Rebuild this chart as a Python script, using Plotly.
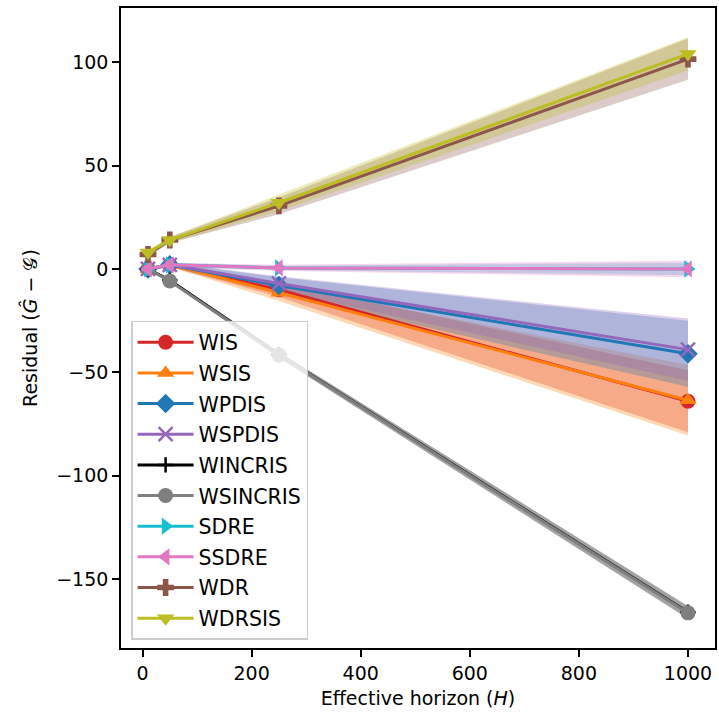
import plotly.graph_objects as go

horizons = [10, 50, 250, 1000]

names = ["WIS", "WSIS", "WPDIS", "WSPDIS", "WINCRIS", "WSINCRIS", "SDRE", "SSDRE", "WDR", "WDRSIS"]

wis = [0.0, 2.0, -10.0, -64.0]
wsis = [0.0, 2.0, -11.5, -63.5]
wpdis = [0.0, 2.0, -8.0, -41.0]
wspdis = [0.0, 2.0, -7.0, -39.0]
wincris = [0.0, -5.5, -41.5, -166.0]
wsincris = [0.0, -5.8, -41.6, -166.3]
sdre = [0.0, 2.0, 0.5, 0.0]
ssdre = [0.0, 2.0, 0.5, 0.0]
wdr = [7.0, 14.0, 30.5, 101.5]
wdrsis = [8.0, 14.0, 32.0, 104.0]

wis_ci = [0.5, 1.0, 3.5, 15.0]
wsis_ci = [0.5, 1.0, 4.0, 17.0]
wpdis_ci = [0.5, 1.0, 4.0, 16.0]
wspdis_ci = [0.5, 1.0, 3.5, 15.0]
wincris_ci = [0.5, 0.8, 1.5, 3.0]
wsincris_ci = [0.5, 0.8, 1.5, 3.0]
sdre_ci = [0.5, 1.0, 1.0, 3.0]
ssdre_ci = [0.5, 1.0, 1.5, 4.0]
wdr_ci = [1.0, 1.5, 4.0, 10.0]
wdrsis_ci = [1.0, 1.5, 4.0, 8.0]

values = [wis, wsis, wpdis, wspdis, wincris, wsincris, sdre, ssdre, wdr, wdrsis]
cis = [wis_ci, wsis_ci, wpdis_ci, wspdis_ci, wincris_ci, wsincris_ci, sdre_ci, ssdre_ci, wdr_ci, wdrsis_ci]

colors = ["#d62728", "#ff7f0e", "#1f77b4", "#9467bd", "#000000", "#7f7f7f",
          "#17becf", "#e377c2", "#8c564b", "#bcbd22"]
symbols = ["circle", "triangle-up", "diamond", "x-thin-open", "cross-thin-open", "circle",
           "triangle-right", "triangle-left", "cross", "triangle-down"]
sizes = [15, 15, 15, 14, 11, 15, 15, 15, 14, 15]


def rgba(hexc, a):
    h = hexc.lstrip("#")
    r, g, b = int(h[0:2], 16), int(h[2:4], 16), int(h[4:6], 16)
    return f"rgba({r},{g},{b},{a})"


fig = go.Figure()

for name, v, c, col in zip(names, values, cis, colors):
    upper = [a + b for a, b in zip(v, c)]
    lower = [a - b for a, b in zip(v, c)]
    fig.add_trace(go.Scatter(x=horizons, y=upper, mode="lines", line=dict(width=0),
                             showlegend=False, hoverinfo="skip", legendgroup=name))
    fig.add_trace(go.Scatter(x=horizons, y=lower, mode="lines", line=dict(width=0),
                             fill="tonexty", fillcolor=rgba(col, 0.3),
                             showlegend=False, hoverinfo="skip", legendgroup=name))

for name, v, col, sym, sz in zip(names, values, colors, symbols, sizes):
    mk = dict(symbol=sym, size=sz, color=col)
    if sym.endswith("-open"):
        mk["line"] = dict(color=col, width=2.5)
    else:
        mk["line"] = dict(width=0)
    fig.add_trace(go.Scatter(x=horizons, y=v, mode="lines+markers", name=name,
                             legendgroup=name,
                             line=dict(color=col, width=3), marker=mk))

axis_common = dict(showline=True, linecolor="black", linewidth=1.6, mirror=True,
                   ticks="outside", ticklen=7, tickwidth=1.6, tickcolor="black",
                   showgrid=False, zeroline=False,
                   tickfont=dict(family="DejaVu Sans", size=19, color="black"))

fig.update_layout(
    width=719, height=715,
    margin=dict(l=121, r=2, t=8, b=67),
    paper_bgcolor="white", plot_bgcolor="white",
    font=dict(family="DejaVu Sans", size=19, color="black"),
    xaxis=dict(range=[-39.5, 1049.5], tickvals=[0, 200, 400, 600, 800, 1000],
               title=dict(text="Effective horizon (<i>H</i>)", standoff=9,
                          font=dict(size=19)), **axis_common),
    yaxis=dict(range=[-183.3, 126.2], tickvals=[-150, -100, -50, 0, 50, 100],
               title=dict(text="Residual (<i>Ĝ</i> − 𝒢)", standoff=14,
                          font=dict(size=19)), **axis_common),
    legend=dict(x=0.017, y=0.511, xanchor="left", yanchor="top",
                traceorder="grouped", tracegroupgap=1,
                bgcolor="rgba(255,255,255,0.8)", bordercolor="#cccccc", borderwidth=1.5,
                font=dict(family="DejaVu Sans", size=20.5, color="black"),
                itemwidth=56),
    showlegend=True,
)

fig.write_html("out.html",
               config={"displayModeBar": False},
               post_script="document.body.style.margin='0';document.body.style.overflow='hidden';")
